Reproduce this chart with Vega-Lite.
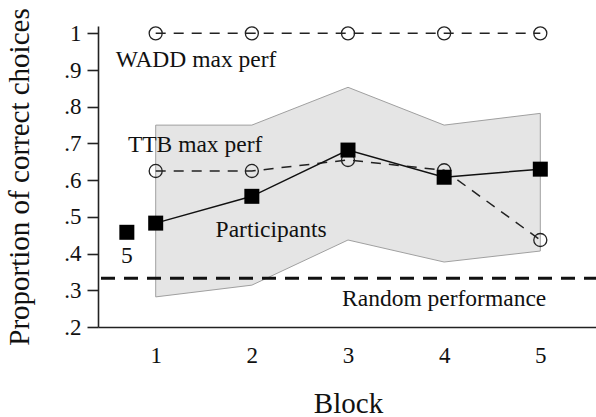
{
  "$schema": "https://vega.github.io/schema/vega-lite/v6.json",
  "width": 500,
  "height": 301,
  "autosize": {"type": "none"},
  "padding": {"left": 98, "top": 26, "right": 0, "bottom": 90},
  "config": {
    "view": {"stroke": null},
    "font": "Times New Roman",
    "axis": {
      "grid": false,
      "domainColor": "#222",
      "domainWidth": 1.6,
      "labelFont": "Times New Roman",
      "labelFontSize": 23,
      "labelColor": "#111",
      "labelOverlap": false,
      "titleFont": "Times New Roman",
      "titleFontSize": 29,
      "titleFontWeight": "normal",
      "titleColor": "#111"
    },
    "axisX": {"ticks": false, "labelPadding": 17, "titlePadding": 22},
    "axisY": {
      "tickColor": "#222", "tickWidth": 1.6, "tickSize": 11, "labelPadding": 6, "titlePadding": 29, "tickCount": 9,
      "labelExpr": "datum.value == 1 ? '1' : replace(format(datum.value, '.1f'), '0.', '.')"
    }
  },
  "datasets": {
    "band": [
      {"block": 1, "lo": 0.282, "hi": 0.75},
      {"block": 2, "lo": 0.314, "hi": 0.75},
      {"block": 3, "lo": 0.437, "hi": 0.853},
      {"block": 4, "lo": 0.377, "hi": 0.75},
      {"block": 5, "lo": 0.407, "hi": 0.782}
    ],
    "part": [
      {"block": 1, "v": 0.483},
      {"block": 2, "v": 0.556},
      {"block": 3, "v": 0.682},
      {"block": 4, "v": 0.608},
      {"block": 5, "v": 0.630}
    ],
    "models": [
      {"model": "WADD", "block": 1, "v": 1.0},
      {"model": "WADD", "block": 2, "v": 1.0},
      {"model": "WADD", "block": 3, "v": 1.0},
      {"model": "WADD", "block": 4, "v": 1.0},
      {"model": "WADD", "block": 5, "v": 1.0},
      {"model": "TTB", "block": 1, "v": 0.625},
      {"model": "TTB", "block": 2, "v": 0.625},
      {"model": "TTB", "block": 3, "v": 0.655},
      {"model": "TTB", "block": 4, "v": 0.627},
      {"model": "TTB", "block": 5, "v": 0.437}
    ],
    "outlier": [{"block": 0.7, "v": 0.458}],
    "labels": [
      {"block": 1.42, "v": 0.908, "text": "WADD max perf"},
      {"block": 1.41, "v": 0.677, "text": "TTB max perf"},
      {"block": 2.2, "v": 0.446, "text": "Participants"},
      {"block": 4.0, "v": 0.258, "text": "Random performance"},
      {"block": 0.7, "v": 0.375, "text": "5"}
    ],
    "random": [{"v": 0.333}]
  },
  "layer": [
    {
      "data": {"name": "band"},
      "mark": {"type": "area", "fill": "#e5e5e5", "stroke": "#a0a0a0", "strokeWidth": 1},
      "encoding": {
        "x": {"field": "block", "type": "quantitative", "scale": {"domain": [0.4, 5.6], "nice": false, "zero": false}, "title": "Block", "axis": {"values": [1, 2, 3, 4, 5], "format": "d"}},
        "y": {"field": "lo", "type": "quantitative", "scale": {"domain": [0.2, 1.02], "nice": false, "zero": false}, "title": "Proportion of correct choices", "axis": {"values": [0.2, 0.3, 0.4, 0.5, 0.6, 0.7, 0.8, 0.9, 1.0]}},
        "y2": {"field": "hi"}
      }
    },
    {
      "data": {"name": "random"},
      "mark": {"type": "rule", "color": "#111", "strokeWidth": 3, "strokeDash": [14, 9]},
      "encoding": {
        "y": {"field": "v", "type": "quantitative", "title": "Proportion of correct choices", "axis": {"values": [0.2, 0.3, 0.4, 0.5, 0.6, 0.7, 0.8, 0.9, 1.0]}}
      }
    },
    {
      "data": {"name": "models"},
      "mark": {"type": "line", "color": "#222", "strokeWidth": 1.5, "strokeDash": [10, 8]},
      "encoding": {
        "x": {"field": "block", "type": "quantitative", "title": "Block", "axis": {"values": [1, 2, 3, 4, 5], "format": "d"}},
        "y": {"field": "v", "type": "quantitative", "title": "Proportion of correct choices", "axis": {"values": [0.2, 0.3, 0.4, 0.5, 0.6, 0.7, 0.8, 0.9, 1.0]}},
        "detail": {"field": "model"}
      }
    },
    {
      "data": {"name": "models"},
      "mark": {"type": "point", "shape": "circle", "filled": false, "stroke": "#222", "strokeWidth": 1.3, "size": 170, "opacity": 1},
      "encoding": {
        "x": {"field": "block", "type": "quantitative", "title": "Block", "axis": {"values": [1, 2, 3, 4, 5], "format": "d"}},
        "y": {"field": "v", "type": "quantitative", "title": "Proportion of correct choices", "axis": {"values": [0.2, 0.3, 0.4, 0.5, 0.6, 0.7, 0.8, 0.9, 1.0]}}
      }
    },
    {
      "data": {"name": "part"},
      "mark": {"type": "line", "color": "#111", "strokeWidth": 1.5},
      "encoding": {
        "x": {"field": "block", "type": "quantitative", "title": "Block", "axis": {"values": [1, 2, 3, 4, 5], "format": "d"}},
        "y": {"field": "v", "type": "quantitative", "title": "Proportion of correct choices", "axis": {"values": [0.2, 0.3, 0.4, 0.5, 0.6, 0.7, 0.8, 0.9, 1.0]}}
      }
    },
    {
      "data": {"name": "part"},
      "mark": {"type": "square", "color": "#000", "size": 225, "opacity": 1},
      "encoding": {
        "x": {"field": "block", "type": "quantitative", "title": "Block", "axis": {"values": [1, 2, 3, 4, 5], "format": "d"}},
        "y": {"field": "v", "type": "quantitative", "title": "Proportion of correct choices", "axis": {"values": [0.2, 0.3, 0.4, 0.5, 0.6, 0.7, 0.8, 0.9, 1.0]}}
      }
    },
    {
      "data": {"name": "outlier"},
      "mark": {"type": "square", "color": "#000", "size": 225, "opacity": 1},
      "encoding": {
        "x": {"field": "block", "type": "quantitative", "title": "Block", "axis": {"values": [1, 2, 3, 4, 5], "format": "d"}},
        "y": {"field": "v", "type": "quantitative", "title": "Proportion of correct choices", "axis": {"values": [0.2, 0.3, 0.4, 0.5, 0.6, 0.7, 0.8, 0.9, 1.0]}}
      }
    },
    {
      "data": {"name": "labels"},
      "mark": {"type": "text", "font": "Times New Roman", "fontSize": 23.5, "color": "#111", "align": "center", "baseline": "alphabetic"},
      "encoding": {
        "x": {"field": "block", "type": "quantitative", "title": "Block", "axis": {"values": [1, 2, 3, 4, 5], "format": "d"}},
        "y": {"field": "v", "type": "quantitative", "title": "Proportion of correct choices", "axis": {"values": [0.2, 0.3, 0.4, 0.5, 0.6, 0.7, 0.8, 0.9, 1.0]}},
        "text": {"field": "text"}
      }
    }
  ]
}
